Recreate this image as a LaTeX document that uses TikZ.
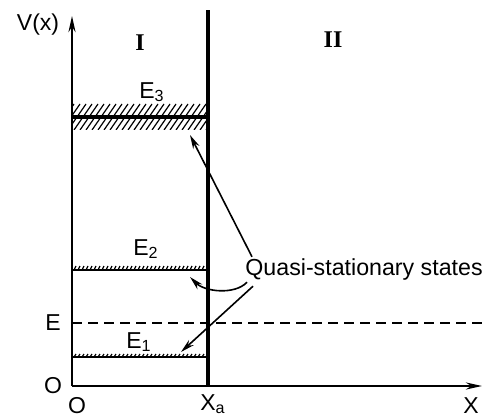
\documentclass[tikz,border=0pt]{standalone}
\usepackage{fontspec}
\setmainfont{Liberation Sans}
\newfontfamily\numfont{Liberation Serif}
\usepackage{tikz}
\usetikzlibrary{arrows.meta,positioning,calc}

\begin{document}
\begin{tikzpicture}[
    x=0.5pt, y=-0.5pt,
    axis/.style={line width=1.2pt, -{Stealth[length=8pt,width=3.5pt]}},
    wall/.style={line width=2pt},
    level/.style={line width=1.1pt},
    hatch/.style={line width=0.6pt},
    lbl/.style={inner sep=0pt, font=\fontsize{11.5}{13}\selectfont},
    region/.style={inner sep=0pt, font=\numfont\bfseries\fontsize{12}{14}\selectfont},
    arrow/.style={-{Stealth[length=7pt,width=3.5pt]}, line width=0.8pt}
]
\useasboundingbox (0,0) rectangle (482,417);

% axes and wall
\coordinate (o) at (72,386);
\coordinate (ytop) at (72,16);
\coordinate (xend) at (482,386);
\coordinate (wtop) at (208,10);
\coordinate (wbot) at (208,386);
\draw[axis] (o) -- (ytop);
\draw[axis] (o) -- (xend);
\draw[wall] (wbot) -- (wtop);

% level E3 (broad)
\begin{scope}
  \clip (72,104) rectangle (208,130);
  \foreach \x in {56,62,...,210}
    \draw[hatch] (\x,130) -- ++(18,-26);
\end{scope}
\coordinate (e3l) at (72,117);
\coordinate (e3r) at (208,117);
\draw[level, line width=1.6pt] (e3l) -- (e3r);

% level E2 and E1 (narrow)
\coordinate (e2l) at (72,270);
\coordinate (e2r) at (208,270);
\coordinate (e1l) at (72,357);
\coordinate (e1r) at (208,357);
\foreach \x in {74,78,...,206} {
  \draw[hatch] (\x,270) -- ++(2,-4);
  \draw[hatch] (\x,357) -- ++(2,-3);
}
\draw[level] (e2l) -- (e2r);
\draw[level] (e1l) -- (e1r);

% energy E
\coordinate (el) at (72,323);
\coordinate (er) at (482,323);
\draw[line width=0.8pt, dash pattern=on 5pt off 3pt] (el) -- (er);

% labels
\node[lbl] (vlab) at (38,25) {V(x)};
\node[region] (reg1) at (140,43) {I};
\node[region] (reg2) at (333,40) {II};
\node[lbl] (e3lab) at (152,92) {E\textsubscript{3}};
\node[lbl] (e2lab) at (146,249) {E\textsubscript{2}};
\node[lbl] (e1lab) at (139,342) {E\textsubscript{1}};
\node[lbl] (elab) at (53,323) {E};
\node[lbl] (olab) at (53,386) {O};
\node[lbl] (oxlab) at (77,406) {O};
\node[lbl] (xalab) at (213,404) {X\textsubscript{a}};
\node[lbl] (xlab) at (471,406) {X};
\node[lbl, anchor=west, font=\fontsize{11.6}{13}\selectfont] (qss) at (245,270) {Quasi-stationary states};

% arrows to the levels
\coordinate (t3) at (190,135);
\coordinate (t2) at (190,277);
\coordinate (t1) at (181,352);
\draw[arrow] ([xshift=3.5pt,yshift=1pt]qss.north west) -- (t3);
\draw[arrow] ([xshift=1pt,yshift=-0.5pt]qss.south west) .. controls (235,295) and (205,292) .. (t2);
\draw[arrow] ([xshift=4pt,yshift=-2.5pt]qss.south west) -- (t1);
\end{tikzpicture}
\end{document}
